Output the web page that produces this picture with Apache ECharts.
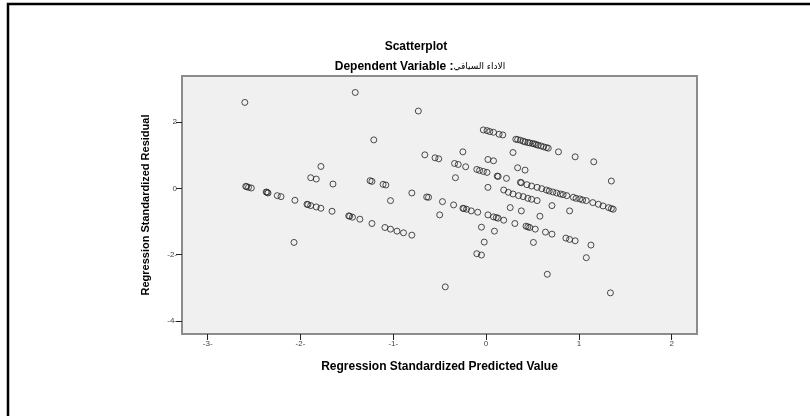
<!DOCTYPE html>
<html>
<head>
<meta charset="utf-8">
<script src="https://cdn.jsdelivr.net/npm/echarts@6/dist/echarts.min.js"></script>
<style>
  html, body { margin: 0; padding: 0; background: #fff; }
  #chart { width: 810px; height: 416px; }
</style>
</head>
<body>
<div id="chart"></div>
<script>
// standardized predicted value (x) and standardized residual (y)
const predicted = [
  -2.59, -2.58, -2.56, -2.53, -2.37, -2.36, -2.35, -2.25, -2.21, -2.06,
  -1.93, -1.92, -1.89, -1.83, -1.78, -1.66, -1.48, -1.47, -1.44, -1.36,
  -1.23, -1.09, -1.03, -0.96, -0.89, -0.80,
  -2.60, -1.41, -0.73, -1.21, -0.66, -0.55, -0.51, -1.78, -1.89, -1.83,
  -1.65, -1.25, -1.23, -1.11, -1.08, -0.80, -0.64, -0.62, -0.47, -0.50,
  -1.03, -2.07, -0.44,
  -0.03, 0.01, 0.04, 0.08, 0.14, 0.18,
  0.32, 0.34, 0.37, 0.40, 0.42, 0.45, 0.47, 0.50, 0.52, 0.54, 0.56, 0.59, 0.62, 0.65, 0.67,
  0.78, 0.96, 1.16, -0.25, 0.29, 0.02, 0.08,
  -0.34, -0.30, -0.22, -0.10, -0.07, -0.03, 0.01, 0.34, 0.42,
  0.12, 0.13, 0.22, -0.33, 0.02, 1.35,
  0.37, 0.38, 0.44, 0.49, 0.55, 0.60, 0.65, 0.68, 0.72, 0.76, 0.80, 0.83,
  0.87, 0.94, 0.97, 1.01, 1.04, 1.08, 1.15, 1.21, 1.26, 1.32, 1.35, 1.37,
  0.19, 0.24, 0.29, 0.35, 0.40, 0.45, 0.49, 0.55,
  0.71, 0.90, 0.26, 0.38, 0.58,
  -0.35, -0.25, -0.24, -0.21, -0.16, -0.09,
  0.02, 0.08, 0.11, 0.13, 0.19,
  0.31, 0.43, 0.45, 0.47, 0.53, 0.64, 0.71, 0.86, 0.90, 0.96, 1.13,
  -0.05, 0.09, -0.02, 0.51, -0.10, -0.05, 1.08, 0.66, 1.34
];
const residual = [
  0.06, 0.05, 0.03, 0.01, -0.11, -0.12, -0.14, -0.22, -0.25, -0.36,
  -0.48, -0.49, -0.52, -0.56, -0.60, -0.69, -0.83, -0.84, -0.87, -0.93,
  -1.06, -1.18, -1.23, -1.29, -1.34, -1.41,
  2.59, 2.89, 2.33, 1.46, 1.01, 0.92, 0.89, 0.66, 0.32, 0.28,
  0.13, 0.23, 0.21, 0.12, 0.10, -0.14, -0.26, -0.27, -0.40, -0.80,
  -0.37, -1.63, -2.97,
  1.76, 1.74, 1.71, 1.69, 1.63, 1.61,
  1.48, 1.47, 1.45, 1.42, 1.40, 1.38, 1.37, 1.35, 1.34, 1.32, 1.30, 1.28, 1.25, 1.23, 1.21,
  1.10, 0.95, 0.80, 1.10, 1.08, 0.87, 0.83,
  0.75, 0.72, 0.65, 0.57, 0.54, 0.51, 0.48, 0.62, 0.55,
  0.37, 0.36, 0.30, 0.32, 0.03, 0.22,
  0.18, 0.17, 0.11, 0.07, 0.03, -0.01, -0.05, -0.08, -0.11, -0.14, -0.17, -0.19,
  -0.22, -0.27, -0.30, -0.32, -0.35, -0.37, -0.43, -0.48, -0.53, -0.58, -0.61, -0.63,
  -0.05, -0.12, -0.17, -0.22, -0.25, -0.30, -0.33, -0.37,
  -0.52, -0.68, -0.58, -0.68, -0.84,
  -0.50, -0.60, -0.61, -0.63, -0.68, -0.72,
  -0.80, -0.86, -0.88, -0.90, -0.96,
  -1.06, -1.14, -1.16, -1.18, -1.23, -1.32, -1.38, -1.50, -1.54, -1.58, -1.71,
  -1.17, -1.29, -1.62, -1.63, -1.97, -2.01, -2.09, -2.59, -3.15
];
const xTicks = [-3, -2, -1, 0, 1, 2];
const yTicks = [-4, -2, 0, 2];

const points = predicted.map((x, i) => [x, residual[i]]);

// negatives show a trailing dash in the original output
const tickText = v => (v < 0 ? v + '-' : String(v));

const chart = echarts.init(document.getElementById('chart'));

const option = {
  animation: false,
  backgroundColor: '#ffffff',
  textStyle: { fontFamily: 'Liberation Sans, Arial, sans-serif' },
  graphic: [
    {
      type: 'rect',
      silent: true,
      shape: { x: 8, y: 4, width: 900, height: 500 },
      style: { fill: 'none', stroke: '#000', lineWidth: 2.5 }
    },
    {
      type: 'text',
      x: 416, y: 47,
      style: {
        text: 'Scatterplot',
        align: 'center', verticalAlign: 'middle',
        font: 'bold 12px "Liberation Sans", Arial, sans-serif',
        fill: '#000'
      }
    },
    {
      type: 'text',
      x: 420, y: 67,
      style: {
        text: '{b|Dependent Variable :}{a|الاداء السياقي}',
        align: 'center', verticalAlign: 'middle',
        rich: {
          b: { fontFamily: 'Liberation Sans, Arial, sans-serif', fontWeight: 'bold', fontSize: 12, fill: '#000' },
          a: { fontFamily: 'DejaVu Sans, sans-serif', fontSize: 9, fill: '#000' }
        }
      }
    }
  ],
  grid: {
    left: 182, top: 76, right: 113, bottom: 82,
    show: true,
    backgroundColor: '#f0f0f0',
    borderColor: '#8c8c8c',
    borderWidth: 2
  },
  xAxis: {
    type: 'value',
    min: -3.277, max: 2.273,
    name: 'Regression Standardized Predicted Value',
    nameLocation: 'middle',
    nameGap: 27,
    nameTextStyle: { fontWeight: 'bold', fontSize: 12, color: '#000' },
    axisLine: { show: false, onZero: false },
    splitLine: { show: false },
    axisTick: { show: true, customValues: xTicks, length: 6, lineStyle: { color: '#222' } },
    axisLabel: {
      customValues: xTicks,
      formatter: tickText,
      fontSize: 8, color: '#444', margin: 6
    }
  },
  yAxis: {
    type: 'value',
    min: -4.39, max: 3.386,
    name: 'Regression Standardized Residual',
    nameLocation: 'middle',
    nameGap: 31,
    nameTextStyle: {
      fontWeight: 'bold', fontSize: 11, color: '#000',
      fontFamily: 'Liberation Sans, Arial, sans-serif'
    },
    axisLine: { show: false, onZero: false },
    splitLine: { show: false },
    axisTick: { show: true, customValues: yTicks, length: 6, lineStyle: { color: '#222' } },
    axisLabel: {
      customValues: yTicks,
      formatter: tickText,
      fontSize: 8, color: '#444', margin: 5
    }
  },
  series: [{
    type: 'scatter',
    data: points,
    symbol: 'circle',
    symbolSize: 6,
    itemStyle: { color: 'rgba(0,0,0,0)', borderColor: '#222', borderWidth: 1 },
    emphasis: { disabled: true }
  }]
};

chart.setOption(option);
</script>
</body>
</html>
